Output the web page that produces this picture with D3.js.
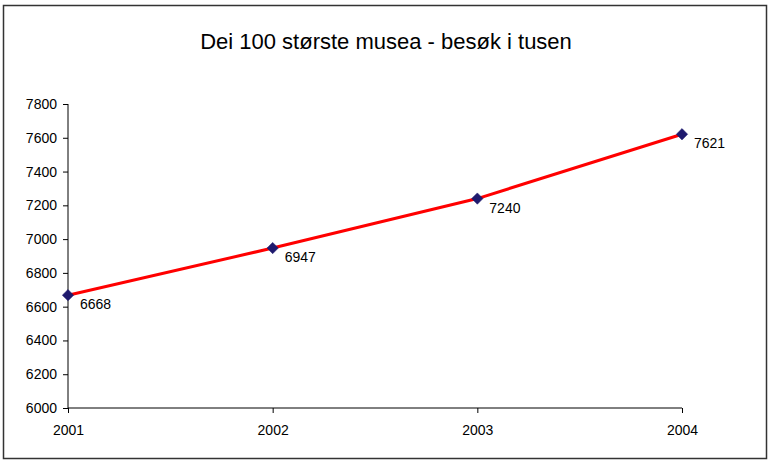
<!DOCTYPE html>
<html>
<head>
<meta charset="utf-8">
<script src="https://cdn.jsdelivr.net/npm/d3@7"></script>
<style>
  body { margin: 0; background: #fff; }
  svg { display: block; font-family: "Liberation Sans", Arial, sans-serif; }
</style>
</head>
<body>
<div id="chart"></div>
<script>
// Chart data
const years = ["2001", "2002", "2003", "2004"];
const visitors = [6668, 6947, 7240, 7621];
const yTicks = [6000, 6200, 6400, 6600, 6800, 7000, 7200, 7400, 7600, 7800];
const title = "Dei 100 største musea - besøk i tusen";

const W = 768, H = 461;
const margin = { top: 104, right: 86, bottom: 53, left: 68 };
const width = W - margin.left - margin.right;
const height = H - margin.top - margin.bottom;
const fontFam = "Liberation Sans, Arial, sans-serif";

const svg = d3.select("#chart").append("svg")
    .attr("width", W)
    .attr("height", H);

// Outer frame
svg.append("rect")
    .attr("x", 3.5).attr("y", 5.5)
    .attr("width", 763).attr("height", 453)
    .attr("fill", "#fff")
    .attr("stroke", "#333")
    .attr("stroke-width", 1.5);

svg.append("text")
    .attr("x", 386).attr("y", 49)
    .attr("text-anchor", "middle")
    .attr("font-size", 22)
    .attr("fill", "#000")
    .text(title);

const g = svg.append("g")
    .attr("transform", `translate(${margin.left},${margin.top})`);

const x = d3.scalePoint()
    .domain(years)
    .range([0, width]);

const y = d3.scaleLinear()
    .domain([6000, 7800])
    .range([height, 0]);

// Y axis
const yAxis = g.append("g")
    .call(d3.axisLeft(y).tickValues(yTicks).tickSize(5).tickPadding(6).tickFormat(d3.format("d")));
yAxis.selectAll("text").attr("font-size", 14).attr("fill", "#000").attr("font-family", fontFam);
yAxis.selectAll("line, path").attr("stroke", "#000");
yAxis.select(".domain").attr("d", `M0,0V${height}`);

// X axis
const xAxis = g.append("g")
    .attr("transform", `translate(0,${height})`)
    .call(d3.axisBottom(x).tickSize(5).tickPadding(12));
xAxis.selectAll("text").attr("font-size", 14).attr("fill", "#000").attr("font-family", fontFam);
xAxis.selectAll("line, path").attr("stroke", "#000");
xAxis.select(".domain").attr("d", `M0,0H${width}`);

const data = years.map((yr, i) => ({ year: yr, value: visitors[i] }));

// Line
g.append("path")
    .datum(data)
    .attr("fill", "none")
    .attr("stroke", "#ff0000")
    .attr("stroke-width", 3)
    .attr("d", d3.line().x(d => x(d.year)).y(d => y(d.value)));

// Markers
g.selectAll(".marker")
    .data(data)
  .enter().append("path")
    .attr("class", "marker")
    .attr("transform", d => `translate(${x(d.year)},${y(d.value)}) rotate(45)`)
    .attr("d", "M-4,-4H4V4H-4Z")
    .attr("fill", "#1f1a6e")
    .attr("stroke", "#1f1a6e")
    .attr("stroke-width", 0.5);

// Data labels
g.selectAll(".label")
    .data(data)
  .enter().append("text")
    .attr("class", "label")
    .attr("x", d => x(d.year) + 12)
    .attr("y", d => y(d.value) + 14)
    .attr("font-size", 14)
    .attr("fill", "#000")
    .text(d => d.value);
</script>
</body>
</html>
